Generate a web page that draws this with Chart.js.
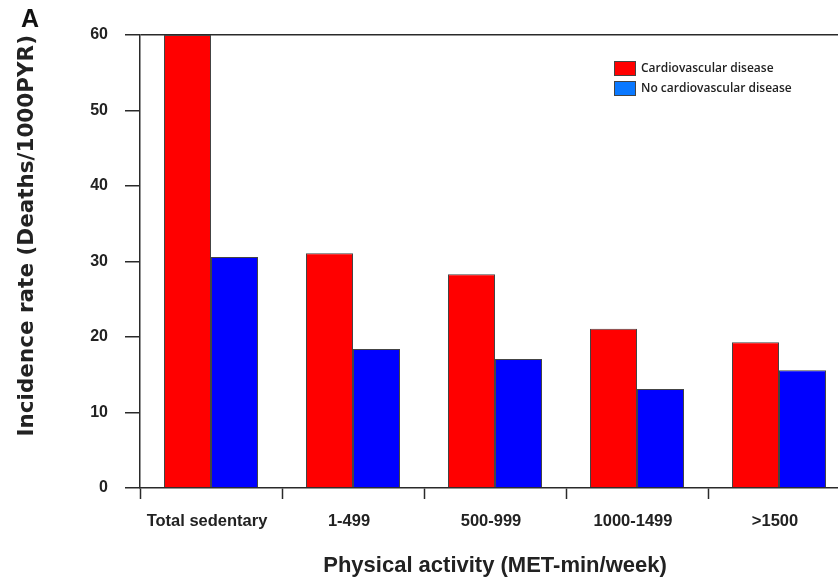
<!DOCTYPE html>
<html>
<head>
<meta charset="utf-8">
<script src="https://cdn.jsdelivr.net/npm/chart.js@4/dist/chart.umd.min.js"></script>
<style>
  html, body { margin: 0; padding: 0; background: #fff; overflow: hidden; }
  #wrap { position: relative; width: 838px; height: 579px; overflow: hidden; }
  #panel { position: absolute; left: 21px; top: 4px; font: bold 25px "Liberation Sans", Arial, sans-serif; color: #111; }
  #legend { position: absolute; left: 614px; top: 61px; font: 600 12px "Open Sans", sans-serif; color: #222; }
  #legend div { height: 20px; line-height: 14px; white-space: nowrap; }
  #legend span { display: inline-block; width: 20px; height: 13px; border: 1px solid #444; vertical-align: top; margin-right: 5px; }
</style>
</head>
<body>
<div id="wrap">
  <canvas id="chart" width="850" height="579"></canvas>
  <div id="panel">A</div>
  <div id="legend"></div>
</div>
<script>
// Datos
const categories = ['Total sedentary', '1-499', '500-999', '1000-1499', '>1500'];
const cvd = [60, 31.1, 28.3, 21.1, 19.3];
const noCvd = [30.6, 18.4, 17.1, 13.1, 15.6];
const yTicks = [0, 10, 20, 30, 40, 50, 60];

const seriesColors = ['#ff0000', '#0000ff'];
const legendColors = ['#ff0000', '#0a78ff'];
const seriesLabels = ['Cardiovascular disease', 'No cardiovascular disease'];

const axisColor = '#2a2a2a';
const xTickFont = { family: '"Liberation Sans", Arial, sans-serif', size: 16.5, weight: 'bold' };
const yTickFont = { family: '"Liberation Sans", Arial, sans-serif', size: 16, weight: 'bold' };

const ctx = document.getElementById('chart').getContext('2d');
const chart = new Chart(ctx, {
    type: 'bar',
    data: {
        labels: categories,
        datasets: [
            { label: seriesLabels[0], data: cvd, backgroundColor: seriesColors[0], borderColor: '#444', borderWidth: 1 },
            { label: seriesLabels[1], data: noCvd, backgroundColor: seriesColors[1], borderColor: '#444', borderWidth: 1 }
        ]
    },
    options: {
        responsive: false,
        devicePixelRatio: 1,
        animation: false,
        categoryPercentage: 0.662,
        barPercentage: 1.0,
        layout: { padding: { top: 35, left: 0, right: 0, bottom: 0 } },
        plugins: { legend: { display: false }, tooltip: { enabled: false } },
        scales: {
            x: {
                grid: { offset: true, drawOnChartArea: false, tickLength: 11, tickColor: axisColor, tickWidth: 1.5 },
                border: { color: axisColor, width: 1.5 },
                ticks: { font: xTickFont, color: '#222', padding: 13, labelOffset: -4, maxRotation: 0, autoSkip: false },
                title: {
                    display: true,
                    text: 'Physical activity (MET-min/week)',
                    font: { family: '"Liberation Sans", Arial, sans-serif', size: 22, weight: 'bold' },
                    color: '#222',
                    padding: { top: 5, bottom: 0 }
                },
                afterFit: scale => { scale.height = 91; }
            },
            y: {
                min: 0,
                max: 60,
                afterBuildTicks: scale => { scale.ticks = yTicks.map(v => ({ value: v })); },
                grid: {
                    drawOnChartArea: true,
                    color: c => (c.tick && c.tick.value === 60 ? axisColor : 'transparent'),
                    lineWidth: 1.5,
                    tickLength: 15,
                    tickColor: axisColor,
                    tickWidth: 1.5
                },
                border: { color: axisColor, width: 1.5 },
                ticks: { font: yTickFont, color: '#222', padding: 17 },
                title: {
                    display: true,
                    text: 'Incidence rate (Deaths/1000PYR)',
                    align: 'end',
                    font: { family: '"DejaVu Sans", sans-serif', size: 21.5, weight: 'bold' },
                    color: '#222',
                    padding: { top: 15, bottom: 0 }
                },
                afterFit: scale => { scale.width = 140; }
            }
        }
    }
});

// Leyenda en HTML con los colores de la figura original
const legend = document.getElementById('legend');
seriesLabels.forEach((label, i) => {
    const row = document.createElement('div');
    row.innerHTML = `<span style="background:${legendColors[i]}"></span>${label}`;
    legend.appendChild(row);
});
</script>
</body>
</html>
